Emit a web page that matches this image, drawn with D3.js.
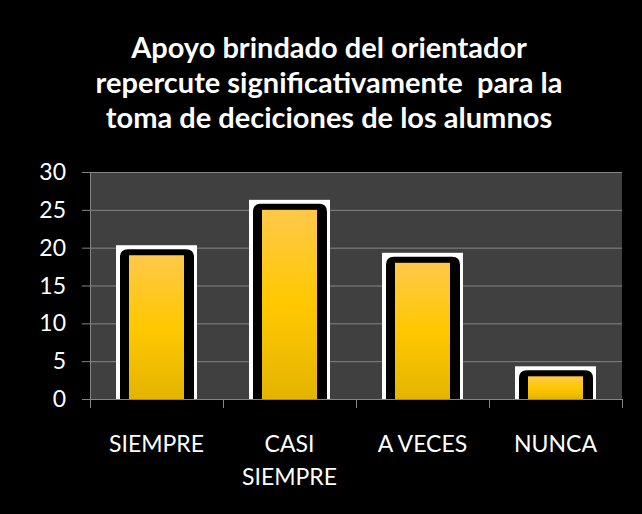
<!DOCTYPE html>
<html>
<head>
<meta charset="utf-8">
<script src="https://cdn.jsdelivr.net/npm/d3@7"></script>
<style>
  html, body { margin: 0; padding: 0; background: #000; }
  svg { display: block; font-family: Lato, "Open Sans", sans-serif; }
</style>
</head>
<body>
<svg width="642" height="514"></svg>
<script>
const categories = [["SIEMPRE"], ["CASI", "SIEMPRE"], ["A VECES"], ["NUNCA"]];
const values = [19, 25, 18, 3];
const yTicks = [0, 5, 10, 15, 20, 25, 30];
const titleLines = [
  "Apoyo brindado del orientador",
  "repercute significativamente  para la",
  "toma de deciciones de los alumnos"
];

const svg = d3.select("svg"),
    width = +svg.attr("width"),
    height = +svg.attr("height");

const plot = { left: 90, right: 622, top: 172, bottom: 399 };

svg.append("rect")
    .attr("width", width)
    .attr("height", height)
    .attr("fill", "#000");

// title
svg.append("text")
    .attr("text-anchor", "middle")
    .attr("fill", "#fff")
    .attr("font-weight", "bold")
    .attr("font-size", 29)
    .style("white-space", "pre")
    .selectAll("tspan")
    .data(titleLines)
    .enter().append("tspan")
    .attr("x", 329)
    .attr("y", (d, i) => 58 + i * 35)
    .text(d => d);

const x = d3.scaleBand()
    .domain(d3.range(categories.length))
    .range([plot.left, plot.right])
    .padding(0);

const y = d3.scaleLinear()
    .domain([0, 30])
    .range([plot.bottom, plot.top]);

// plot background
svg.append("rect")
    .attr("x", plot.left)
    .attr("y", plot.top)
    .attr("width", plot.right - plot.left)
    .attr("height", plot.bottom - plot.top)
    .attr("fill", "#404040");

// gridlines
svg.append("g")
    .selectAll("line")
    .data(yTicks)
    .enter().append("line")
    .attr("x1", plot.left - 8)
    .attr("x2", plot.right)
    .attr("y1", d => y(d) + 0.5)
    .attr("y2", d => y(d) + 0.5)
    .attr("stroke", "#858585")
    .attr("stroke-width", 1);

// y axis line
svg.append("line")
    .attr("x1", plot.left + 0.5)
    .attr("x2", plot.left + 0.5)
    .attr("y1", plot.top)
    .attr("y2", plot.bottom)
    .attr("stroke", "#858585");

// y labels
svg.append("g")
    .selectAll("text")
    .data(yTicks)
    .enter().append("text")
    .attr("x", 66)
    .attr("y", d => y(d) + 8)
    .attr("text-anchor", "end")
    .attr("fill", "#fff")
    .attr("font-size", 23)
    .text(d => d);

// gradient
const defs = svg.append("defs");
const grad = defs.append("linearGradient")
    .attr("id", "gold")
    .attr("x1", 0).attr("y1", 0).attr("x2", 0).attr("y2", 1);
grad.append("stop").attr("offset", "0%").attr("stop-color", "#ffc84a");
grad.append("stop").attr("offset", "50%").attr("stop-color", "#ffc800");
grad.append("stop").attr("offset", "100%").attr("stop-color", "#e4b400");

const barW = 55;
const bars = svg.append("g")
    .selectAll("g")
    .data(values)
    .enter().append("g")
    .attr("transform", (d, i) => `translate(${x(i) + x.bandwidth() / 2},0)`);

// white outer frame
bars.append("rect")
    .attr("x", -barW / 2 - 13)
    .attr("width", barW + 26)
    .attr("y", d => y(d) - 10)
    .attr("height", d => plot.bottom - y(d) + 10)
    .attr("fill", "#fff");

// black rounded bevel
bars.append("path")
    .attr("d", d => {
      const x0 = -barW / 2 - 9, x1 = barW / 2 + 10, t = y(d) - 6, b = plot.bottom, r = 8;
      return `M${x0},${b}V${t + r}Q${x0},${t} ${x0 + r},${t}H${x1 - r}Q${x1},${t} ${x1},${t + r}V${b}Z`;
    })
    .attr("fill", "#000");

bars.append("rect")
    .attr("x", -barW / 2)
    .attr("width", barW)
    .attr("y", d => y(d))
    .attr("height", d => plot.bottom - y(d))
    .attr("fill", "url(#gold)");

// x axis line and ticks
svg.append("line")
    .attr("x1", plot.left)
    .attr("x2", plot.right)
    .attr("y1", plot.bottom + 0.5)
    .attr("y2", plot.bottom + 0.5)
    .attr("stroke", "#858585");

svg.append("g")
    .selectAll("line")
    .data(d3.range(categories.length + 1))
    .enter().append("line")
    .attr("x1", i => (i < categories.length ? x(i) : plot.right) + 0.5)
    .attr("x2", i => (i < categories.length ? x(i) : plot.right) + 0.5)
    .attr("y1", plot.bottom)
    .attr("y2", plot.bottom + 9)
    .attr("stroke", "#858585");

// category labels
svg.append("g")
    .selectAll("text")
    .data(categories)
    .enter().append("text")
    .attr("text-anchor", "middle")
    .attr("fill", "#fff")
    .attr("font-size", 23)
    .selectAll("tspan")
    .data((d, i) => d.map(s => ({ s, i })))
    .enter().append("tspan")
    .attr("x", d => x(d.i) + x.bandwidth() / 2)
    .attr("y", (d, j) => 452 + j * 33)
    .text(d => d.s);
</script>
</body>
</html>
